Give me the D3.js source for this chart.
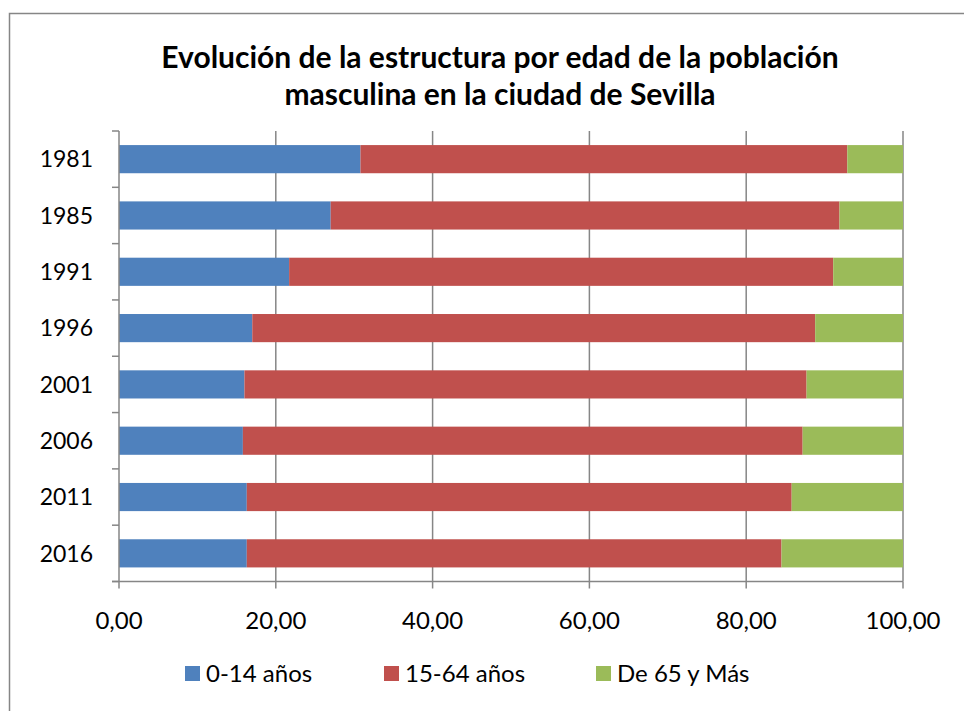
<!DOCTYPE html>
<html><head><meta charset="utf-8">
<script src="https://cdn.jsdelivr.net/npm/d3@7"></script>
<style>
html,body{margin:0;padding:0;background:#fff;}
text{font-family:Lato,"Open Sans",sans-serif;fill:#000;}
</style></head>
<body>
<svg id="c" width="964" height="711"></svg>
<script>
const years = ["1981","1985","1991","1996","2001","2006","2011","2016"];
const seriesNames = ["0-14 años","15-64 años","De 65 y Más"];
const age0_14  = [30.8, 27.0, 21.7, 17.0, 16.0, 15.8, 16.3, 16.3];
const age15_64 = [62.1, 64.9, 69.4, 71.8, 71.7, 71.4, 69.5, 68.2];
const age65    = [7.1, 8.1, 8.9, 11.2, 12.3, 12.8, 14.2, 15.5];
const xTicks = [0,20,40,60,80,100];
const colors = ["#4F81BD","#C0504D","#9BBB59"];

const svg = d3.select("#c");
const grey = "#868686";
// frame
svg.append("rect").attr("x",9.5).attr("y",13.5).attr("width",1000).attr("height",1000)
  .attr("fill","none").attr("stroke",grey).attr("stroke-width",1.5);

// title
const title = svg.append("text").attr("text-anchor","middle").attr("font-weight","bold").attr("font-size",30);
title.append("tspan").attr("x",500).attr("y",68).text("Evolución de la estructura por edad de la población");
title.append("tspan").attr("x",500).attr("y",105).text("masculina en la ciudad de Sevilla");

const L=119, R=903, T=131, B=581.5;
const x = d3.scaleLinear().domain([0,100]).range([L,R]);
const y = d3.scaleBand().domain(years).range([T,B]).paddingInner(0.5).paddingOuter(0.25);

const data = years.map((yr,i)=>({year:yr, a:age0_14[i], b:age15_64[i], c:age65[i]}));
const stack = d3.stack().keys(["a","b","c"])(data);

// gridlines
svg.append("g").selectAll("line").data(xTicks.slice(1)).join("line")
  .attr("x1",d=>x(d)).attr("x2",d=>x(d)).attr("y1",T).attr("y2",B)
  .attr("stroke",grey).attr("stroke-width",1.5);

// bars
svg.append("g").selectAll("g").data(stack).join("g").attr("fill",(d,i)=>colors[i])
  .selectAll("rect").data(d=>d).join("rect")
  .attr("x",d=>x(d[0])).attr("width",d=>x(d[1])-x(d[0]))
  .attr("y",d=>y(d.data.year)).attr("height",y.bandwidth());

// y axis
const step = (B-T)/years.length;
const gy = svg.append("g");
gy.append("line").attr("x1",L).attr("x2",L).attr("y1",T).attr("y2",B).attr("stroke",grey).attr("stroke-width",1.5);
gy.selectAll("line.t").data(d3.range(years.length+1)).join("line").attr("class","t")
  .attr("x1",L-7).attr("x2",L).attr("y1",i=>T+i*step).attr("y2",i=>T+i*step)
  .attr("stroke",grey).attr("stroke-width",1.5);
gy.selectAll("text").data(years).join("text")
  .attr("x",93).attr("y",d=>y(d)+y.bandwidth()/2).attr("dy","0.36em")
  .attr("text-anchor","end").attr("font-size",23).text(d=>d);

// x axis
const gx = svg.append("g");
gx.append("line").attr("x1",L-7).attr("x2",R).attr("y1",B).attr("y2",B).attr("stroke",grey).attr("stroke-width",1.5);
gx.selectAll("line.t").data(xTicks).join("line").attr("class","t")
  .attr("x1",d=>x(d)).attr("x2",d=>x(d)).attr("y1",B).attr("y2",B+7)
  .attr("stroke",grey).attr("stroke-width",1.5);
const fmt = d=>d.toFixed(2).replace(".",",");
gx.selectAll("text").data(xTicks).join("text")
  .attr("x",d=>x(d)).attr("y",629).attr("text-anchor","middle").attr("font-size",24).text(fmt);

// legend
const legX = [185, 384, 596];
const lg = svg.append("g");
seriesNames.forEach((n,i)=>{
  lg.append("rect").attr("x",legX[i]).attr("y",666).attr("width",15).attr("height",15).attr("fill",colors[i]);
  lg.append("text").attr("x",legX[i]+21).attr("y",682).attr("font-size",24).text(n);
});
</script>
</body></html>
